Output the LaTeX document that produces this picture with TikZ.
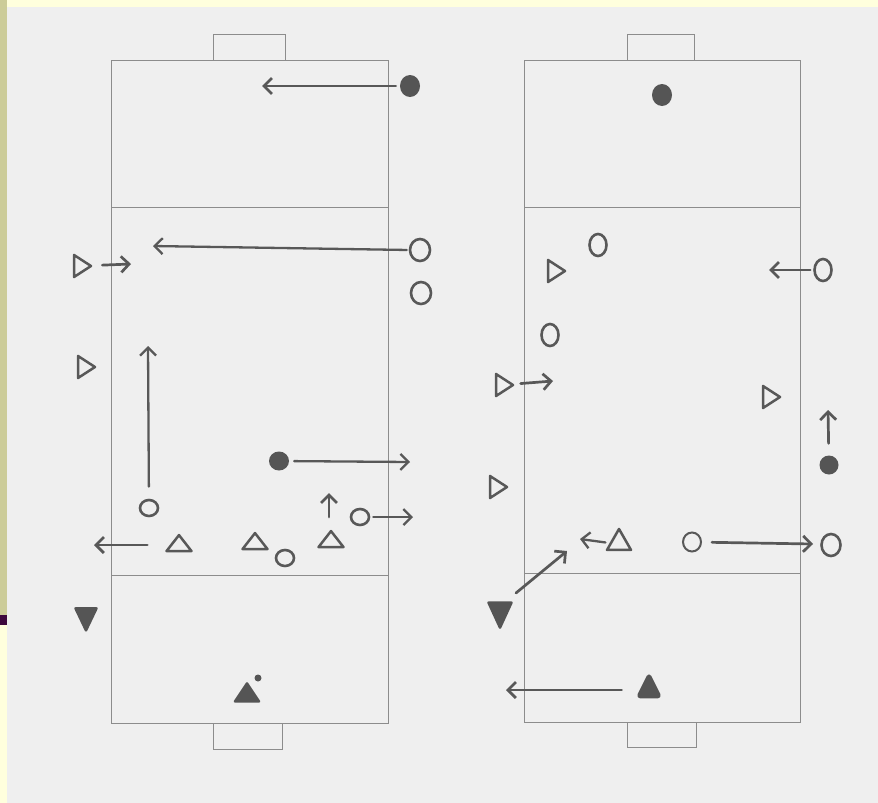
\documentclass[tikz,border=0pt]{standalone}
\usetikzlibrary{arrows.meta,shapes.geometric}
\definecolor{fbpaper}{RGB}{239,239,239}
\definecolor{fbyellow}{RGB}{255,255,221}
\definecolor{fbkhaki}{RGB}{204,204,153}
\definecolor{fbplum}{RGB}{61,8,61}
\definecolor{fbline}{RGB}{140,140,140}
\definecolor{fbink}{RGB}{88,88,88}
\definecolor{fbfill}{RGB}{85,85,85}
\tikzset{
  fbpitch/.style={draw=fbline, line width=1pt},
  fbopen/.style={ellipse, draw=fbink, line width=2.6pt, inner sep=0pt, minimum width=18pt, minimum height=16pt},
  fboval/.style={fbopen, minimum width=17pt, minimum height=22pt},
  fbdot/.style={ellipse, fill=fbfill, inner sep=0pt, minimum width=20pt, minimum height=21pt},
  fbtri/.style={isosceles triangle, isosceles triangle stretches, draw=fbink, line width=2.5pt, inner sep=0pt, line join=round},
  fbright/.style={fbtri, shape border rotate=0, minimum width=22pt, minimum height=17pt},
  fbup/.style={fbtri, shape border rotate=90, minimum width=25pt, minimum height=16pt},
  fbdown/.style={fbtri, shape border rotate=270, fill=fbfill, draw=fbfill, minimum width=21pt, minimum height=22pt},
  fbarr/.style={-{Straight Barb[length=8pt,width=16pt]}, line width=2.7pt, draw=fbink, line cap=round}
}

\begin{document}
\begin{tikzpicture}[x=1pt, y=-1pt]
  \useasboundingbox (0,0) rectangle (878,803);
  % paper and slide frame
  \fill[fbpaper] (0,0) rectangle (878,803);
  \fill[fbyellow] (0,0) rectangle (878,7);
  \fill[fbkhaki] (0,0) rectangle (7,615);
  \fill[fbplum] (0,615) rectangle (7,625);
  \fill[fbyellow] (0,625) rectangle (7,803);

  % left pitch
  \draw[fbpitch] (111,60) rectangle (388,723);
  \draw[fbpitch] (111,207) -- (388,207);
  \draw[fbpitch] (111,575) -- (388,575);
  \draw[fbpitch] (213,60) -- (213,34) -- (285,34) -- (285,60);
  \draw[fbpitch] (213,723) -- (213,749) -- (282,749) -- (282,723);

  % right pitch
  \draw[fbpitch] (524,60) rectangle (800,722);
  \draw[fbpitch] (524,207) -- (800,207);
  \draw[fbpitch] (524,573) -- (800,573);
  \draw[fbpitch] (627,60) -- (627,34) -- (694,34) -- (694,60);
  \draw[fbpitch] (627,722) -- (627,747) -- (696,747) -- (696,722);

  % left players
  \node[fbdot, minimum height=22pt] (lbtop) at (410,86) {};
  \node[fboval, minimum width=20pt] (lcA) at (420,250) {};
  \node[fboval, minimum width=20pt] (lcB) at (421,293) {};
  \node[fbright] (ltA) at (80,266) {};
  \node[fbright] (ltB) at (84,367) {};
  \node[fbopen] (lcC) at (149,508) {};
  \node[fbdot, minimum height=19pt] (lbmid) at (279,461) {};
  \node[fbopen] (lcD) at (360,517) {};
  \node[fbup] (ltC) at (179,545) {};
  \node[fbup] (ltD) at (255,543) {};
  \node[fbopen] (lcE) at (285,558) {};
  \node[fbup] (ltE) at (331,541) {};
  \node[fbdown] (lgD) at (86,615) {};
  \node[fbdown, shape border rotate=90, minimum width=24pt, minimum height=18pt] (lgU) at (247,695) {};
  \node[circle, fill=fbfill, inner sep=0pt, minimum size=7pt] (lball) at (258,678) {};

  \coordinate (lbtopE) at (262,86);
  \coordinate (lcAE) at (153,246);
  \coordinate (ltAE) at (131,264);
  \coordinate (lcCE) at (148,346);
  \coordinate (lbmidE) at (410,462);
  \coordinate (lupS) at (329,517);
  \coordinate (lupE) at (329,493);
  \coordinate (lcDE) at (413,517);
  \coordinate (ltCE) at (94,545);

  \draw[fbarr, shorten <=4pt] (lbtop) -- (lbtopE);
  \draw[fbarr, line width=2.3pt, shorten <=2pt] (lcA.west) -- (lcAE);
  \draw[fbarr, shorten <=9pt] (ltA) -- (ltAE);
  \draw[fbarr, line width=2.3pt, shorten <=12pt] (lcC) -- (lcCE);
  \draw[fbarr, line width=2.3pt, shorten <=5pt] (lbmid) -- (lbmidE);
  \draw[fbarr] (lupS) -- (lupE);
  \draw[fbarr, line width=2.3pt, shorten <=3pt] (lcD) -- (lcDE);
  \draw[fbarr, shorten <=22pt] (ltC) -- (ltCE);

  % right players
  \node[fbdot, minimum height=22pt] (rbtop) at (662,95) {};
  \node[fboval] (rcA) at (598,245) {};
  \node[fbright] (rtA) at (554,271) {};
  \node[fboval] (rcB) at (823,270) {};
  \node[fboval] (rcC) at (550,335) {};
  \node[fbright] (rtB) at (502,385) {};
  \node[fbright] (rtC) at (769,397) {};
  \node[fbdot, minimum width=19pt, minimum height=19pt] (rbmid) at (829,465) {};
  \node[fbright] (rtD) at (496,487) {};
  \node[fbup, minimum width=24pt, minimum height=21pt] (rtE) at (619,543) {};
  \node[fbopen, line width=2pt, minimum width=18pt, minimum height=19pt] (rcD) at (692,542) {};
  \node[fboval, minimum width=19pt] (rcE) at (831,545) {};
  \node[fbdown, minimum width=23pt, minimum height=25pt] (rgD) at (500,610) {};
  \node[fbdown, shape border rotate=90, rounded corners=3pt, minimum width=23pt, minimum height=23pt] (rgU) at (649,690) {};

  \coordinate (rcBE) at (769,270);
  \coordinate (rtBE) at (553,381);
  \coordinate (rbmidE) at (828,410);
  \coordinate (rtEE) at (580,539);
  \coordinate (rcDE) at (813,544);
  \coordinate (rgDS) at (516,593);
  \coordinate (rgDE) at (567,551);
  \coordinate (rgUE) at (506,690);

  \draw[fbarr, shorten <=3pt] (rcB) -- (rcBE);
  \draw[fbarr, shorten <=6pt] (rtB) -- (rtBE);
  \draw[fbarr, shorten <=12pt] (rbmid) -- (rbmidE);
  \draw[fbarr, line width=2.3pt, shorten <=4pt] (rtE.west) -- (rtEE);
  \draw[fbarr, shorten <=10pt] (rcD) -- (rcDE);
  \draw[fbarr] (rgDS) -- (rgDE);
  \draw[fbarr, shorten <=18pt] (rgU) -- (rgUE);
\end{tikzpicture}
\end{document}
